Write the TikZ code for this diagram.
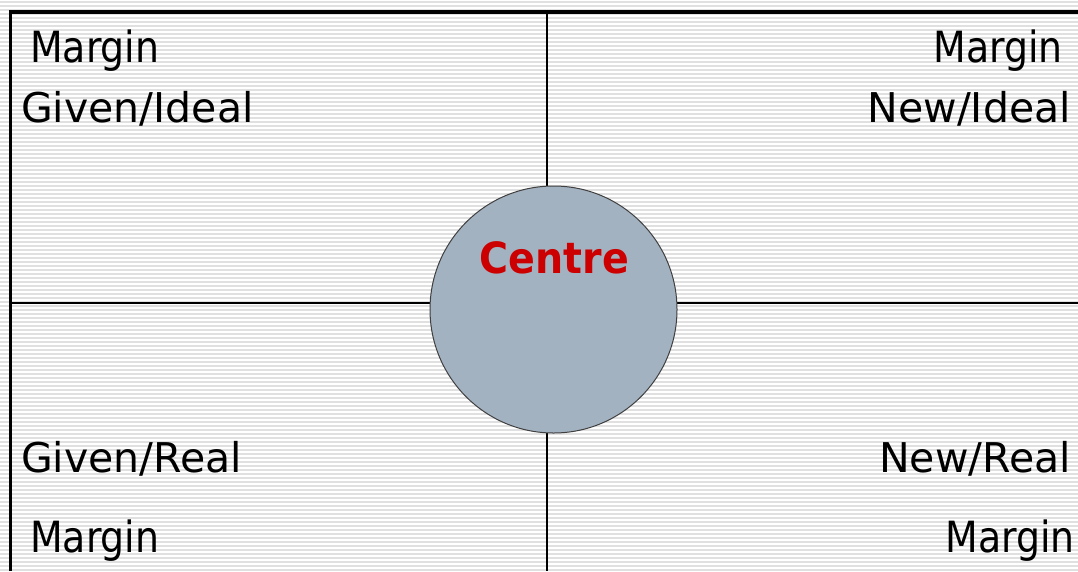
\documentclass[tikz,border=0pt]{standalone}
\usepackage{fontspec}
\setmainfont{DejaVu Sans}
\newfontfamily\marginfont[FakeStretch=0.88]{DejaVu Sans}
\newfontfamily\centrefont[FakeStretch=0.92]{DejaVu Sans}
\usepackage{xcolor}
\usetikzlibrary{positioning}
\definecolor{StripeGrey}{HTML}{E0E0E0}
\definecolor{CentreFill}{HTML}{A3B2C1}
\definecolor{CentreRed}{HTML}{CC0000}

\tikzset{
  quadlabel/.style={inner sep=0pt,font=\fontsize{41}{48}\selectfont},
  marginlabel/.style={inner sep=0pt,font=\marginfont\fontsize{43}{50}\selectfont}
}

\begin{document}
\begin{tikzpicture}[x=1pt,y=-1pt]
    \useasboundingbox (0,0) rectangle (1078,571);
    \fill[white] (0,0) rectangle (1078,571);
    % striped background
    \foreach \y in {2,6,...,570}
      \draw[StripeGrey,line width=1.1pt] (0,\y) -- (1078,\y);

    % frame and quadrant axes
    \coordinate (frameBL) at (10.5,571);
    \coordinate (frameTL) at (10.5,12);
    \coordinate (frameTR) at (1078,12);
    \coordinate (axisTop) at (547,12);
    \coordinate (axisBottom) at (547,571);
    \coordinate (axisLeft) at (10.5,303);
    \coordinate (axisRight) at (1078,303);
    \draw[line width=3.2pt] (frameBL) -- (frameTL) -- (frameTR);
    \draw[line width=1.5pt] (axisTop) -- (axisBottom);
    \draw[line width=1.5pt] (axisLeft) -- (axisRight);

    \node[circle,minimum size=247pt,inner sep=0pt,draw=black!75,line width=1pt,fill=CentreFill] (centre) at (553.5,309.5) {};
    \node[anchor=base,inner sep=0pt,text=CentreRed,font=\centrefont\bfseries\fontsize{43}{50}\selectfont] (centreText) at (554.5,273) {Centre};

    \node[marginlabel,anchor=base west] (marginTL) at (30,62) {Margin};
    \node[marginlabel,anchor=base east] (marginTR) at (1063,62) {Margin};
    \node[marginlabel,anchor=base west] (marginBL) at (30,552) {Margin};
    \node[marginlabel,anchor=base east] (marginBR) at (1075,552) {Margin};

    \node[quadlabel,anchor=base west] (givenIdeal) at (21,122) {Given/Ideal};
    \node[quadlabel,anchor=base east] (newIdeal) at (1071,122) {New/Ideal};
    \node[quadlabel,anchor=base west] (givenReal) at (21,472) {Given/Real};
    \node[quadlabel,anchor=base east] (newReal) at (1071,472) {New/Real};
  \end{tikzpicture}
\end{document}
